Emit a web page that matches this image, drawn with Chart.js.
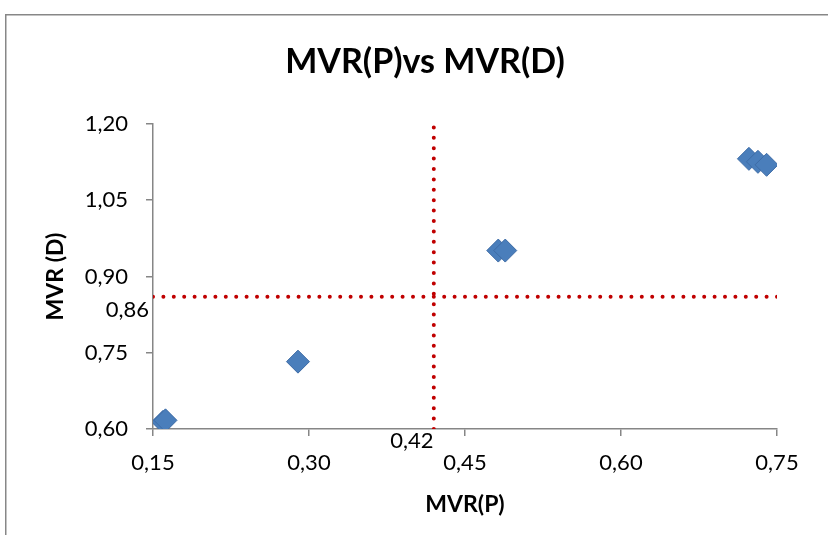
<!DOCTYPE html>
<html>
<head>
<meta charset="utf-8">
<script src="https://cdn.jsdelivr.net/npm/chart.js@4/dist/chart.umd.min.js"></script>
<style>
  html, body { margin: 0; padding: 0; background: #ffffff; }
  #wrap { position: relative; width: 828px; height: 535px; }
</style>
</head>
<body>
<div id="wrap"><canvas id="c" width="828" height="535"></canvas></div>
<script>
// ---- data ----
const titleText = 'MVR(P)vs MVR(D)';
const xTitle = 'MVR(P)';
const yTitle = 'MVR (D)';
const mvrP = [0.1596, 0.162, 0.2894, 0.482, 0.4887, 0.723, 0.7317, 0.740];
const mvrD = [0.614, 0.617, 0.7325, 0.951, 0.951, 1.1315, 1.1256, 1.1197];
const refX = 0.42;
const refY = 0.86;
const xRange = [0.15, 0.75];
const yRange = [0.60, 1.20];
const tickStep = 0.15;
const refLabels = ['0,86', '0,42'];

const FONT = 'Lato, "Open Sans", sans-serif';
const fmt = v => v.toFixed(2).replace('.', ',');

const points = mvrP.map((x, i) => ({ x: x, y: mvrD[i] }));
const vLine = [{ x: refX, y: yRange[0] }, { x: refX, y: yRange[1] }];
const hLine = [{ x: xRange[0], y: refY }, { x: xRange[1], y: refY }];

const framePlugin = {
  id: 'frame',
  beforeDraw(chart) {
    const ctx = chart.ctx;
    ctx.save();
    ctx.fillStyle = '#ffffff';
    ctx.fillRect(0, 0, chart.width, chart.height);
    ctx.strokeStyle = '#878787';
    ctx.lineWidth = 1.5;
    ctx.beginPath();
    ctx.moveTo(5.75, chart.height + 2);
    ctx.lineTo(5.75, 14.75);
    ctx.lineTo(chart.width + 2, 14.75);
    ctx.stroke();
    ctx.restore();
  },
  afterDraw(chart) {
    const ctx = chart.ctx;
    const xs = chart.scales.x, ys = chart.scales.y;
    ctx.save();
    ctx.fillStyle = '#000000';
    ctx.textAlign = 'center';
    ctx.textBaseline = 'middle';
    ctx.font = 'bold 34px ' + FONT;
    ctx.fillText(titleText, 425, 62);
    ctx.font = '22px ' + FONT;
    ctx.textAlign = 'right';
    ctx.fillText(refLabels[0], 149, ys.getPixelForValue(refY) + 13);
    ctx.textAlign = 'center';
    ctx.fillText(refLabels[1], xs.getPixelForValue(refX) - 22, 441);
    ctx.restore();
  }
};

new Chart(document.getElementById('c'), {
  type: 'scatter',
  data: {
    datasets: [
      {
        label: 'points',
        data: points,
        pointStyle: 'rectRot',
        pointRadius: 11.5,
        pointHoverRadius: 11.5,
        backgroundColor: '#4a7ebb',
        borderColor: '#3e6ca6',
        borderWidth: 1,
        order: 1
      },
      {
        label: 'vline',
        type: 'line',
        data: vLine,
        showLine: true,
        pointRadius: 0,
        borderColor: '#c00000',
        borderWidth: 4,
        borderDash: [0, 10.4],
        borderCapStyle: 'round',
        fill: false,
        order: 2
      },
      {
        label: 'hline',
        type: 'line',
        data: hLine,
        showLine: true,
        pointRadius: 0,
        borderColor: '#c00000',
        borderWidth: 4,
        borderDash: [0, 10.4],
        borderCapStyle: 'round',
        fill: false,
        order: 2
      }
    ]
  },
  options: {
    responsive: false,
    animation: false,
    devicePixelRatio: 1,
    layout: { padding: { left: 5, right: 51, top: 124, bottom: 0 } },
    plugins: {
      legend: { display: false },
      tooltip: { enabled: false },
      title: { display: false }
    },
    scales: {
      x: {
        type: 'linear',
        min: xRange[0], max: xRange[1],
        afterFit(s) { s.height = 106; },
        afterBuildTicks(s) {
          const t = [];
          for (let v = xRange[0]; v <= xRange[1] + 1e-9; v += tickStep) t.push({ value: +v.toFixed(2) });
          s.ticks = t;
        },
        border: { display: true, color: '#868686', width: 1.5 },
        grid: { display: true, drawOnChartArea: false, drawTicks: true, tickLength: 7, color: '#868686', lineWidth: 1.5 },
        ticks: {
          padding: 14,
          color: '#000000',
          font: { family: FONT, size: 22 },
          callback: v => fmt(v)
        },
        title: {
          display: true,
          text: xTitle,
          color: '#000000',
          font: { family: FONT, size: 23, weight: 'bold' },
          padding: { top: 0, bottom: 17 }
        }
      },
      y: {
        type: 'linear',
        min: yRange[0], max: yRange[1],
        afterFit(s) { s.width = 148; },
        afterBuildTicks(s) {
          const t = [];
          for (let v = yRange[0]; v <= yRange[1] + 1e-9; v += tickStep) t.push({ value: +v.toFixed(2) });
          s.ticks = t;
        },
        border: { display: true, color: '#868686', width: 1.5 },
        grid: { display: true, drawOnChartArea: false, drawTicks: true, tickLength: 7, color: '#868686', lineWidth: 1.5 },
        ticks: {
          padding: 18,
          color: '#000000',
          font: { family: FONT, size: 22 },
          callback: v => fmt(v)
        },
        title: {
          display: true,
          text: yTitle,
          color: '#000000',
          font: { family: FONT, size: 23, weight: 'bold' },
          padding: { top: 37, bottom: 0 }
        }
      }
    }
  },
  plugins: [framePlugin]
});
</script>
</body>
</html>
